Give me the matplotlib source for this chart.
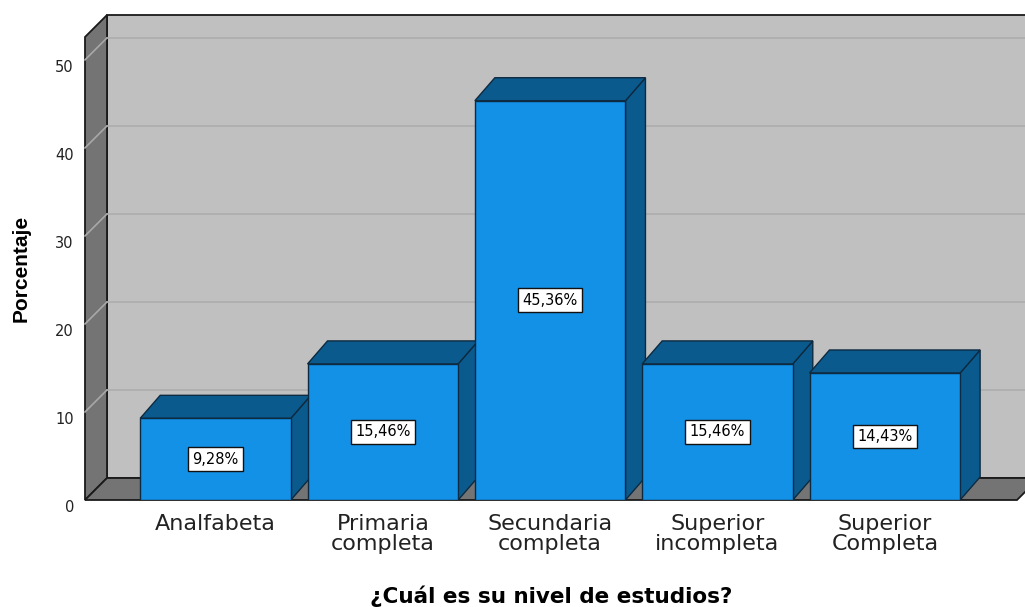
import numpy as np
import matplotlib.pyplot as plt

categorias = ['Analfabeta', 'Primaria\ncompleta', 'Secundaria\ncompleta',
              'Superior\nincompleta', 'Superior\nCompleta']
porcentajes = [9.28, 15.46, 45.36, 15.46, 14.43]
etiquetas = ['9,28%', '15,46%', '45,36%', '15,46%', '14,43%']
marcas_y = [0, 10, 20, 30, 40, 50]

fig = plt.figure(figsize=(10.25, 6.07), dpi=100)
ax = fig.add_axes([85 / 1025, 107 / 607, 932 / 1025, 463 / 607])
x0, x1 = -0.78, 4.79
ytop = 52.6
ax.set_xlim(x0, x1)
ax.set_ylim(0, ytop)
for s in ax.spines.values():
    s.set_visible(False)

# profundidad del efecto 3D, en pixeles convertidos a unidades de datos
px_x = 932 / (x1 - x0)
px_y = 463 / ytop
dx, dy = 22 / px_x, 22 / px_y      # paredes
bdx, bdy = 20 / px_x, 23 / px_y    # barras

gris_claro = '#c0c0c0'
gris_osc = '#747474'
borde = '#1a1a1a'

# pared del fondo
ax.fill([x0 + dx, x1 + dx, x1 + dx, x0 + dx], [dy, dy, ytop + dy, ytop + dy],
        color=gris_claro, ec=borde, lw=1.3, clip_on=False, zorder=0)
# pared izquierda
ax.fill([x0, x0 + dx, x0 + dx, x0], [0, dy, ytop + dy, ytop],
        color=gris_osc, ec=borde, lw=1.3, clip_on=False, zorder=0)
# suelo
ax.fill([x0, x1, x1 + dx, x0 + dx], [0, 0, dy, dy],
        color=gris_osc, ec=borde, lw=1.3, clip_on=False, zorder=0.5)

# lineas de cuadricula en el fondo y en la pared izquierda
for v in marcas_y[1:]:
    ax.plot([x0 + dx, x1 + dx], [v + dy, v + dy], color='#adadad', lw=1.2,
            clip_on=False, zorder=0.2)
    ax.plot([x0, x0 + dx], [v, v + dy], color='#a8a8a8', lw=1.2,
            clip_on=False, zorder=0.2)

# barras
x = np.arange(len(categorias))
w = 0.9
for i, v in zip(x, porcentajes):
    l, r = i - w / 2, i + w / 2
    ax.fill([r, r + bdx, r + bdx, r], [0, bdy, v + bdy, v],
            color='#0b5a8e', ec='#0d2a40', lw=1, zorder=2)
    ax.fill([l, r, r + bdx, l + bdx], [v, v, v + bdy, v + bdy],
            color='#0b5a8e', ec='#0d2a40', lw=1, zorder=2)
ax.bar(x, porcentajes, width=w, color='#1391e6', edgecolor='#0d2a40',
       linewidth=1, zorder=3)

for i, v, t in zip(x, porcentajes, etiquetas):
    ax.text(i, v / 2, t, ha='center', va='center', fontsize=10.5, zorder=5,
            bbox=dict(boxstyle='square,pad=0.3', fc='white', ec='#111111', lw=1))

ax.set_xticks(x)
ax.set_xticklabels(categorias, fontsize=16, color='#222222', linespacing=1.0)
ax.set_yticks(marcas_y)
ax.set_yticklabels([str(m) for m in marcas_y], fontsize=10.5, color='#222222',
                   va='top')
ax.tick_params(axis='x', length=0, pad=10)
ax.tick_params(axis='y', length=0, pad=8)

ax.set_xlabel('¿Cuál es su nivel de estudios?', fontsize=15.5, fontweight='bold',
              labelpad=23)
ax.set_ylabel('Porcentaje', fontsize=15, fontweight='bold', labelpad=18,
              family=['Liberation Sans', 'DejaVu Sans'])

fig.savefig('out.png', dpi=100)
